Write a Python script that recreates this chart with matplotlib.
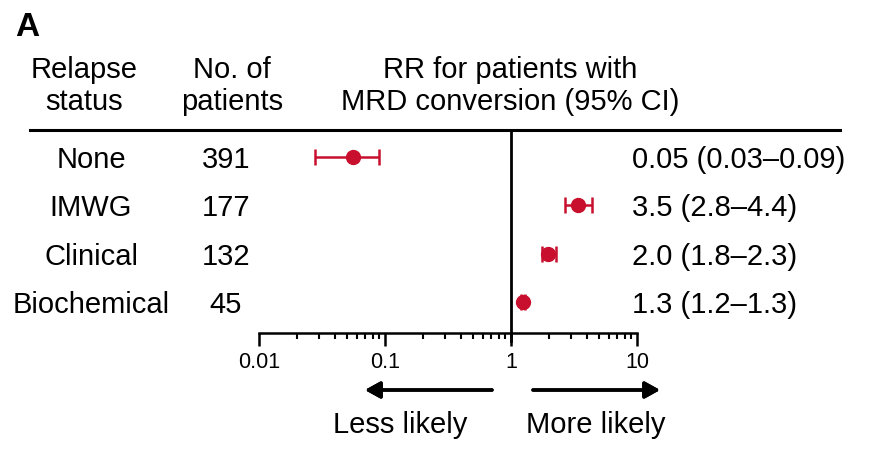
import matplotlib
matplotlib.use("Agg")
import matplotlib.pyplot as plt
from matplotlib.lines import Line2D
from matplotlib.ticker import LogLocator, FixedLocator, FixedFormatter
import matplotlib.transforms as mtransforms

plt.rcParams["font.family"] = ["Liberation Sans", "DejaVu Sans"]

# data
statuses = ["None", "IMWG", "Clinical", "Biochemical"]
n_patients = ["391", "177", "132", "45"]
rr = [0.056, 3.4, 1.97, 1.25]
ci_low = [0.028, 2.7, 1.75, 1.2]
ci_high = [0.089, 4.4, 2.27, 1.3]
rr_labels = ["0.05 (0.03\u20130.09)", "3.5 (2.8\u20134.4)",
             "2.0 (1.8\u20132.3)", "1.3 (1.2\u20131.3)"]
tick_vals = [0.01, 0.1, 1, 10]
tick_labels = ["0.01", "0.1", "1", "10"]

RED = "#C8102E"
W, H = 881, 458
FS = 21


def fx(px):
    return px / W


def fy(py):
    return 1 - py / H


fig = plt.figure(figsize=(W / 100, H / 100), dpi=100)
ax = fig.add_axes([fx(259), fy(333), fx(637) - fx(259), fy(130) - fy(333)])

rows = list(range(len(statuses)))
err = [[r - lo for r, lo in zip(rr, ci_low)], [hi - r for r, hi in zip(rr, ci_high)]]
ax.errorbar(rr, rows, xerr=err, fmt="o", color=RED, ms=10, elinewidth=1.8,
            capsize=6, capthick=1.8, zorder=3)

ax.set_xscale("log")
ax.set_xlim(0.01, 10)
ax.set_ylim(3.63, -0.557)
ax.axvline(1, color="black", lw=2, ymin=-0.04, ymax=1, clip_on=False)

for s in ["top", "right", "left"]:
    ax.spines[s].set_visible(False)
ax.spines["bottom"].set_linewidth(1.8)
ax.set_yticks([])
ax.xaxis.set_major_locator(FixedLocator(tick_vals))
ax.xaxis.set_major_formatter(FixedFormatter(tick_labels))
ax.xaxis.set_minor_locator(LogLocator(base=10, subs=range(2, 10)))
ax.xaxis.set_minor_formatter(plt.NullFormatter())
ax.tick_params(axis="x", which="major", length=9, width=1.8, labelsize=15.5, pad=5)
ax.tick_params(axis="x", which="minor", length=4, width=1.5)

# row texts, nudged a few px below the marker rows
trans = mtransforms.blended_transform_factory(fig.transFigure, ax.transData)
trans = trans + mtransforms.ScaledTranslation(0, -3 / 100, fig.dpi_scale_trans)
for i, (s, n, lab) in enumerate(zip(statuses, n_patients, rr_labels)):
    ax.text(fx(91), i, s, transform=trans, ha="center", va="center", fontsize=FS)
    ax.text(fx(226), i, n, transform=trans, ha="center", va="center", fontsize=FS)
    ax.text(fx(632), i, lab, transform=trans, ha="left", va="center", fontsize=FS)

# headers
fig.text(fx(15), fy(28), "A", fontsize=24, fontweight="bold", ha="left", va="center")
fig.text(fx(84), fy(86), "Relapse\nstatus", fontsize=FS, ha="center", va="center",
         linespacing=1.2)
fig.text(fx(232), fy(86), "No. of\npatients", fontsize=FS, ha="center", va="center",
         linespacing=1.2)
fig.text(fx(510), fy(86), "RR for patients with\nMRD conversion (95% CI)", fontsize=FS,
         ha="center", va="center", linespacing=1.2)
fig.add_artist(Line2D([fx(30), fx(840)], [fy(130), fy(130)], color="black", lw=2.2,
                      transform=fig.transFigure))

# direction arrows
arrow = dict(arrowstyle="-|>,head_length=0.9,head_width=0.5", color="black", lw=2.5,
             shrinkA=0, shrinkB=0)
fig.add_artist(plt.annotate("", xy=(fx(365), fy(390)), xytext=(fx(492), fy(390)),
                            xycoords="figure fraction", arrowprops=arrow))
fig.add_artist(plt.annotate("", xy=(fx(660), fy(390)), xytext=(fx(533), fy(390)),
                            xycoords="figure fraction", arrowprops=arrow))
fig.text(fx(400), fy(425), "Less likely", fontsize=FS, ha="center", va="center")
fig.text(fx(596), fy(425), "More likely", fontsize=FS, ha="center", va="center")

fig.savefig("out.png", dpi=100)
